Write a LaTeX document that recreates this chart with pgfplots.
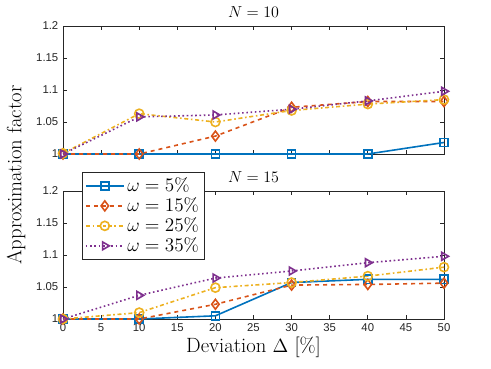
\documentclass[border=0pt]{standalone}
\usepackage{fontspec}
\usepackage{pgfplots}
\pgfplotsset{compat=1.18}
\newfontfamily\tickfont{Liberation Sans}
\definecolor{mblue}{HTML}{0072BD}
\definecolor{morange}{HTML}{D95319}
\definecolor{myellow}{HTML}{EDB120}
\definecolor{mpurple}{HTML}{7E2F8E}
\definecolor{axgray}{gray}{0.15}

\pgfplotsset{
  mstyle/.style={
    scale only axis,
    width=285.75pt, height=96pt,
    xmin=0, xmax=50, ymin=1, ymax=1.2,
    xtick={0,5,...,50},
    ytick={1,1.05,1.1,1.15,1.2},
    yticklabels={1,1.05,1.1,1.15,1.2},
    tick align=inside,
    major tick length=3pt,
    axis line style={axgray, line width=0.5pt},
    every tick/.style={axgray, line width=0.5pt},
    tick label style={font=\tickfont\fontsize{8.5}{9}\selectfont, text=axgray},
    /pgf/number format/assume math mode=true,
    title style={font=\fontsize{12.5}{14}\selectfont, yshift=-3pt},
    clip=false,
    every axis plot/.append style={line width=1.2pt, mark size=3.4pt},
    legend image code/.code={\draw[mark repeat=2,mark phase=2,#1] plot coordinates {(0cm,0cm) (0.5cm,0cm) (1cm,0cm)};},
  },
  s1/.style={mblue, solid, mark=square, mark options={solid, scale=0.9}},
  s2/.style={morange, dashed, mark=diamond, mark options={solid, scale=1.1}},
  s3/.style={myellow, dash dot, mark=o, mark options={solid}},
  s4/.style={mpurple, dotted, mark=triangle, mark options={solid, rotate=-90}},
}

\begin{document}
\begin{tikzpicture}
\path (0,0) rectangle (368.25pt,-276pt);

% N = 10
\begin{axis}[mstyle, at={(47.25pt,-115.5pt)}, anchor=south west,
  title={$N = 10$}, xticklabels={}]
\addplot[s1] coordinates {(0,1) (10,1) (20,1) (30,1) (40,1) (50,1.018)};
\addplot[s2] coordinates {(0,1) (10,1) (20,1.028) (30,1.073) (40,1.082) (50,1.082)};
\addplot[s3] coordinates {(0,1.001) (10,1.063) (20,1.05) (30,1.068) (40,1.078) (50,1.085)};
\addplot[s4] coordinates {(0,1) (10,1.058) (20,1.061) (30,1.07) (40,1.083) (50,1.098)};
\end{axis}

% N = 15
\begin{axis}[mstyle, at={(47.25pt,-239.25pt)}, anchor=south west,
  title={$N = 15$},
  xticklabels={0,5,10,15,20,25,30,35,40,45,50},
  xlabel={Deviation $\Delta$ [\%]},
  xlabel style={font=\fontsize{15.5}{18}\selectfont, yshift=3pt},
  legend style={at={(0.05,1.147)}, anchor=north west, draw=axgray, line width=0.5pt,
    font=\fontsize{14}{16}\selectfont, row sep=-1pt, inner sep=2pt},
  legend cell align=left]
\addplot[s1] coordinates {(0,1) (10,1) (20,1.005) (30,1.057) (40,1.062) (50,1.062)};
\addplot[s2] coordinates {(0,1) (10,1) (20,1.023) (30,1.053) (40,1.054) (50,1.056)};
\addplot[s3] coordinates {(0,1) (10,1.01) (20,1.049) (30,1.057) (40,1.067) (50,1.081)};
\addplot[s4] coordinates {(0,1) (10,1.037) (20,1.064) (30,1.075) (40,1.088) (50,1.098)};
\legend{$\omega = 5\%$, $\omega = 15\%$, $\omega = 25\%$, $\omega = 35\%$}
\end{axis}

\node[rotate=90, font=\fontsize{15.5}{18}\selectfont] at (12pt,-131.25pt) {Approximation factor};
\end{tikzpicture}
\end{document}
